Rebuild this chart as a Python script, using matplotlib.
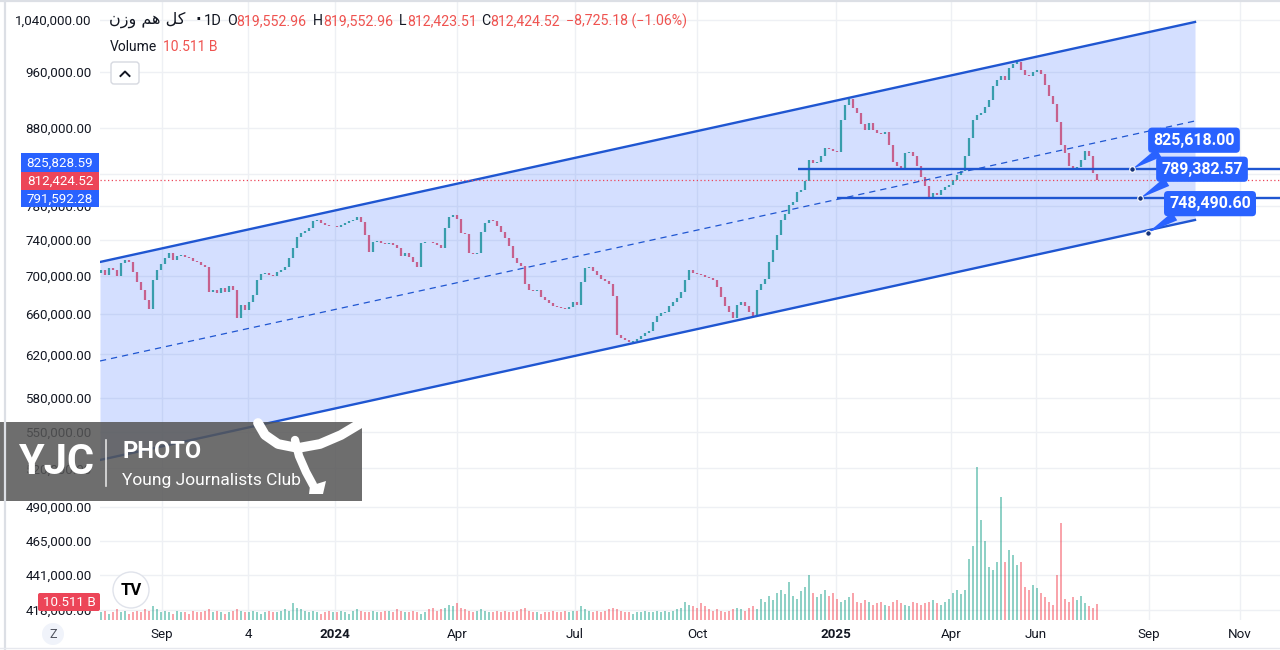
import numpy as np
import matplotlib
matplotlib.use('Agg')
from matplotlib import pyplot as plt
from matplotlib.patches import Rectangle, FancyBboxPatch, Circle, Polygon
from matplotlib.ticker import NullLocator

plt.rcParams['font.family'] = ['Roboto', 'DejaVu Sans']

# daily closes of the equal-weight index, in thousands
closes_k = [
    706.5, 701.1, 708.7, 706.5, 700.0, 714.2, 717.5, 715.3, 704.3, 693.5,
    685.0, 674.5, 665.2, 695.7, 706.5, 713.1, 719.7, 725.3, 717.5, 722.0,
    723.1, 720.9, 719.7, 716.4, 715.3, 712.0, 709.8, 682.9, 685.0, 681.8,
    687.1, 682.9, 689.3, 685.0, 656.1, 669.3, 664.2, 672.4, 679.7, 695.7,
    702.2, 703.2, 701.1, 700.0, 704.3, 706.5, 709.8, 719.7, 731.0, 743.5,
    748.1, 750.4, 753.9, 762.1, 763.3, 759.8, 757.4, 756.2, 756.8, 755.1,
    757.4, 759.8, 762.1, 763.3, 766.9, 760.9, 745.8, 726.4, 737.8, 738.5,
    736.6, 735.5, 736.6, 734.4, 731.0, 722.0, 725.3, 720.9, 715.3, 709.8,
    736.6, 737.8, 737.2, 736.6, 734.4, 731.0, 753.9, 766.9, 769.2, 764.5,
    748.1, 747.0, 725.3, 724.2, 724.9, 749.3, 759.8, 763.3, 762.1, 756.2,
    749.3, 742.3, 733.3, 719.7, 714.2, 710.9, 691.4, 685.0, 683.9, 685.0,
    677.6, 674.5, 671.4, 668.3, 667.3, 666.2, 665.6, 667.3, 672.4, 669.3,
    693.5, 708.7, 709.5, 705.4, 701.1, 696.8, 694.6, 691.4, 678.6, 639.2,
    636.2, 634.3, 632.3, 633.3, 635.2, 638.2, 641.1, 643.1, 652.1, 658.1,
    661.1, 662.2, 668.3, 672.4, 676.5, 682.9, 695.7, 706.5, 703.2, 702.2,
    701.1, 698.9, 697.8, 695.7, 688.2, 677.6, 668.3, 662.2, 656.1, 669.3,
    672.4, 668.3, 662.2, 658.1, 685.0, 691.4, 696.8, 715.3, 728.7, 745.8,
    763.3, 770.4, 781.2, 784.8, 797.0, 799.5, 810.7, 837.5, 833.6, 834.9,
    842.7, 853.1, 852.0, 849.2, 847.9, 890.9, 911.8, 920.3, 907.5, 900.6,
    885.4, 877.2, 886.7, 877.2, 873.2, 871.8, 874.5, 857.1, 834.9, 829.7,
    827.2, 846.6, 847.9, 842.7, 829.7, 815.7, 804.5, 790.9, 795.8, 793.4,
    799.5, 803.2, 805.7, 812.0, 818.3, 823.4, 842.7, 866.4, 890.9, 897.8,
    900.6, 908.9, 918.8, 938.9, 947.7, 953.6, 947.7, 965.4, 971.4, 974.4,
    962.4, 955.0, 953.6, 959.5, 962.4, 956.5, 940.4, 924.5, 913.2, 888.1,
    857.1, 846.6, 829.7, 827.2, 828.4, 837.5, 849.2, 842.7, 821.1, 812.42452,
]
first_open_k = 703.0
last_open_k = 819.55296

# daily volume, billions
volumes_b = [
    5, 6, 4, 5, 7, 5, 6, 4, 5, 6,
    5, 7, 6, 9, 7, 5, 6, 5, 4, 6,
    5, 5, 4, 6, 5, 5, 6, 7, 5, 6,
    5, 4, 5, 6, 7, 6, 5, 5, 6, 5,
    4, 5, 6, 5, 5, 6, 7, 6, 11, 8,
    7, 6, 5, 6, 5, 4, 5, 6, 5, 5,
    6, 5, 4, 6, 7, 6, 5, 5, 6, 5,
    5, 6, 6, 5, 7, 6, 5, 5, 6, 5,
    4, 5, 7, 8, 6, 7, 8, 10, 9, 11,
    8, 7, 6, 5, 6, 7, 6, 5, 5, 6,
    5, 6, 5, 5, 6, 7, 8, 6, 5, 5,
    4, 5, 5, 6, 5, 5, 6, 5, 6, 6,
    9, 7, 6, 5, 6, 5, 6, 7, 8, 7,
    6, 5, 5, 4, 5, 5, 6, 5, 5, 6,
    5, 6, 5, 6, 7, 8, 12, 10, 9, 8,
    11, 9, 7, 6, 7, 6, 5, 6, 7, 8,
    7, 6, 8, 9, 7, 14, 12, 16, 13, 18,
    20, 17, 25, 16, 14, 19, 22, 30, 18, 15,
    17, 20, 16, 18, 14, 12, 13, 15, 18, 12,
    11, 13, 12, 10, 11, 12, 10, 9, 12, 13,
    11, 10, 9, 12, 11, 10, 11, 12, 13, 11,
    10, 12, 14, 18, 20, 17, 20, 40, 49, 101,
    66, 52, 35, 33, 38, 81, 38, 46, 43, 36,
    38, 22, 20, 23, 21, 18, 15, 12, 10, 30,
    64, 14, 12, 15, 13, 16, 11, 9, 8, 10.511,
]

price_ticks = [418000, 441000, 465000, 490000, 520000, 550000, 580000, 620000,
               660000, 700000, 740000, 780000, 820000, 880000, 960000, 1040000]

time_ticks = [15.25, 36.75, 58.5, 89, 118.5, 149, 183.75, 212.5, 233.75, 262, 284.75]
time_labels = ['Sep', '4', '2024', 'Apr', 'Jul', 'Oct', '2025', 'Apr', 'Jun', 'Sep', 'Nov']

# parallel channel drawing: (bar index, price) at its two ends
chan_x = [-0.25, 273.5]
chan_upper = [715300, 1036600]
chan_mid = [613800, 889500]
chan_lower = [526700, 763300]

# horizontal rays: start bar, price
rays = [(174.25, 825618.00), (184, 789382.57)]
# price callouts: anchor bar, price
callouts = [(257.75, 825618.00), (259.75, 789382.57), (261.75, 748490.60)]

last_close = 812424.52

UP = '#1a9e86'
DN = '#ec4558'
VUP = '#089981'
VDN = '#f23645'
BLUE = '#2962ff'
LINE = '#1f56d1'
TXT = '#131722'

fig = plt.figure(figsize=(12.8, 6.5), dpi=100)
fig.patch.set_facecolor('white')
ax = fig.add_axes([100 / 1280, 30 / 650, 1180 / 1280, 620 / 650])
ax.set_yscale('log')
ax.set_ylim(411300, 1072400)
ax.set_xlim(-0.25, 294.75)
for s in ax.spines.values():
    s.set_visible(False)

ax.set_yticks(price_ticks)
ax.set_yticklabels(['{:,.2f}'.format(v) for v in price_ticks])
ax.yaxis.set_minor_locator(NullLocator())
ax.set_xticks(time_ticks)
ax.set_xticklabels(time_labels)
ax.tick_params(axis='y', length=0, pad=6, labelsize=9.6, labelcolor=TXT)
ax.tick_params(axis='x', length=0, pad=6, labelsize=9.6, labelcolor=TXT)
for lab in ax.get_xticklabels():
    if lab.get_text() in ('2024', '2025'):
        lab.set_fontweight('bold')
ax.grid(True, color='#eef0f4', lw=1)
ax.set_axisbelow(True)

# candles
closes = np.array(closes_k) * 1000
opens = np.concatenate([[first_open_k * 1000], closes[:-1]])
opens[-1] = last_open_k * 1000
idx = np.arange(len(closes))
up = closes >= opens
cols = [UP if u else DN for u in up]
ax.vlines(idx, np.minimum(opens, closes), np.maximum(opens, closes),
          colors=cols, lw=1.6, alpha=0.85, zorder=2)

# channel
ax.fill_between(chan_x, chan_lower, chan_upper, color=BLUE, alpha=0.2, lw=0, zorder=3)
ax.plot(chan_x, chan_upper, color=LINE, lw=1.7, zorder=4)
ax.plot(chan_x, chan_lower, color=LINE, lw=1.7, zorder=4)
ax.plot(chan_x, chan_mid, color=LINE, lw=0.9, ls=(0, (5, 4)), zorder=4)

# current price line
ax.axhline(last_close, color=DN, lw=0.9, ls=(0, (1, 2)), zorder=4)

xmax = ax.get_xlim()[1]
for x0, p in rays:
    ax.hlines(p, x0, xmax, color=LINE, lw=1.7, zorder=4)

for xb, p in callouts:
    ax.annotate('{:,.2f}'.format(p), xy=(xb, p), xytext=(62, 29),
                textcoords='offset pixels', ha='center', va='center',
                color='white', fontsize=11.5, fontweight='bold',
                bbox=dict(boxstyle='round,pad=0.32,rounding_size=0.25', fc=BLUE, ec='none'),
                arrowprops=dict(arrowstyle='wedge,tail_width=0.6,shrink_factor=0.5',
                                fc=BLUE, ec='none', relpos=(0.2, 0.1),
                                shrinkA=0, shrinkB=0),
                zorder=6)
    ax.plot(xb, p, 'o', ms=4, mfc='#16337a', mec='white', mew=0.8, zorder=7)

# volume pane
vcols = [VUP if u else VDN for u in up]
axv = ax.twinx()
axv.bar(idx, volumes_b, width=0.6, color=vcols, alpha=0.45, lw=0)
axv.set_ylim(0, 409)
axv.set_yticks([])
for s in axv.spines.values():
    s.set_visible(False)

# overlay in pixel coordinates for legend, labels and watermark
ov = fig.add_axes([0, 0, 1, 1], zorder=20)
ov.set_xlim(0, 1280)
ov.set_ylim(650, 0)
ov.axis('off')
ov.patch.set_alpha(0)

ov.plot([5, 5], [0, 650], color='#dcdfe5', lw=1.6)
ov.plot([0, 1280], [1, 1], color='#dcdfe5', lw=1.6)
ov.plot([0, 1280], [648, 648], color='#e6e8ee', lw=1)

# legend
title = '\uFEE5\uFEAF\uFEED \uFEE2\uFEEB \uFEDE\uFB90'
ov.text(109, 20, title, fontsize=11.5, color=TXT, va='center', ha='left',
        family=['DejaVu Sans'])
ov.text(198, 20, '\u00b7', fontsize=11, fontweight='bold', color=TXT, va='center', ha='center',
        family=['DejaVu Sans'])
ov.text(204, 21, '1D', fontsize=10.5, color=TXT, va='center', ha='left')
RED = '#ef5350'
parts = [(227, 'O', TXT), (236, '819,552.96', RED), (313, 'H', TXT), (323, '819,552.96', RED),
         (399, 'L', TXT), (407, '812,423.51', RED), (481, 'C', TXT), (490, '812,424.52', RED),
         (566, '\u22128,725.18 (\u22121.06%)', RED)]
for x, t, c in parts:
    ov.text(x, 21, t, fontsize=10.2, color=c, va='center', ha='left')
ov.text(110, 47, 'Volume', fontsize=10, color=TXT, va='center', ha='left')
ov.text(163, 47, '10.511 B', fontsize=10, color=RED, va='center', ha='left')
ov.add_patch(FancyBboxPatch((111, 62), 28, 22, boxstyle='round,pad=0,rounding_size=3',
                            fc='white', ec='#d6d9e0', lw=1))
ov.plot([120.5, 125, 129.5], [76, 71.5, 76], color=TXT, lw=1.4)

# price scale labels
for y0, y1, t, c in [(153, 172, '825,828.59', BLUE), (172, 190, '812,424.52', DN),
                     (190, 207, '791,592.28', BLUE)]:
    ov.add_patch(Rectangle((21, y0), 78, y1 - y0, fc=c, ec='none'))
    ov.text(60, (y0 + y1) / 2 + 0.5, t, fontsize=9.6, color='white', ha='center', va='center')
ov.add_patch(FancyBboxPatch((38, 593), 62, 18, boxstyle='round,pad=0,rounding_size=2',
                            fc=DN, ec='none'))
ov.text(69, 602.5, '10.511 B', fontsize=9.6, color='white', ha='center', va='center')

# TradingView logo and Z button
ov.add_patch(Circle((131, 590), 18, fc='white', ec='#e0e3eb', lw=1))
ov.text(131, 590.5, 'TV', fontsize=12, fontweight='bold', color='black', ha='center', va='center')
ov.add_patch(Circle((53, 634), 11, fc='#f0f3fa', ec='none'))
ov.text(53, 634.5, 'Z', fontsize=9, color='#50535e', ha='center', va='center')

# YJC watermark
ov.add_patch(Rectangle((0, 422), 362, 79, fc='#555555', alpha=0.85, ec='none'))
ov.text(19, 463, 'YJC', fontsize=30, fontweight='bold', color='white', ha='left', va='center')
ov.plot([106, 106], [440, 486], color='white', lw=1.2, alpha=0.8)
ov.text(122, 451, 'PHOTO', fontsize=17, fontweight='bold', color='white', ha='left', va='center')
ov.text(122, 481, 'Young Journalists Club', fontsize=12.5, color='white', ha='left', va='center')
ov.plot([258, 265, 278, 298, 320, 341, 361], [423, 435, 444, 448, 444, 435, 423],
        color='white', lw=7, solid_capstyle='round')
ov.plot([295, 299, 306, 313], [440, 456, 472, 485], color='white', lw=6, solid_capstyle='round')
ov.add_patch(Polygon([(310, 486), (326, 481), (323, 494), (309, 494)], closed=True,
                     fc='white', ec='none'))

fig.savefig('out.png', dpi=100)
